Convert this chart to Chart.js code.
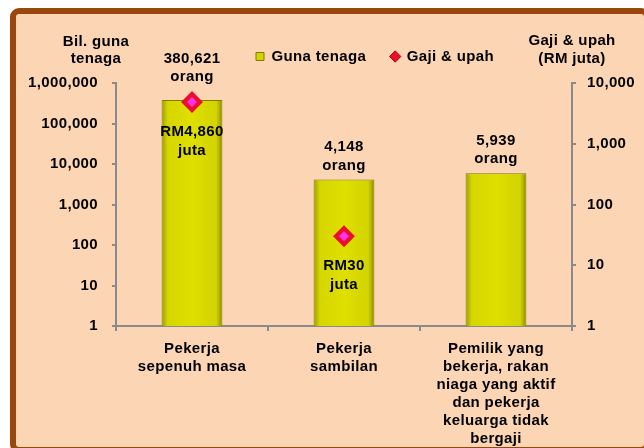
<!DOCTYPE html>
<html><head><meta charset="utf-8">
<script src="https://cdn.jsdelivr.net/npm/chart.js@4"></script>
<style>html,body{margin:0;padding:0;background:#fff;}canvas{display:block;}</style>
</head><body>
<canvas id="c" width="644" height="448"></canvas>
<script>
// ---- data ----
const categories = [
  ["Pekerja", "sepenuh masa"],
  ["Pekerja", "sambilan"],
  ["Pemilik yang", "bekerja, rakan", "niaga yang aktif", "dan pekerja", "keluarga tidak", "bergaji"]
];
const workers = [380621, 4148, 5939];
const wages = [4860, 30, null];
const leftTicks = [1, 10, 100, 1000, 10000, 100000, 1000000];
const rightTicks = [1, 10, 100, 1000, 10000];
const seriesNames = ["Guna tenaga", "Gaji & upah"];
const leftTitle = ["Bil. guna", "tenaga"];
const rightTitle = ["Gaji & upah", "(RM juta)"];
const barUnit = "orang";
const wagePrefix = "RM";
const wageUnit = "juta";

// ---- style ----
const FONT = "'Liberation Sans', Arial, sans-serif";
const FS = 15;
const LS = '0.35px';
const fmt = v => v.toLocaleString('en-US');
const AXIS = '#8a8a8a';

function barGradient(ctx) {
  const chart = ctx.chart;
  const xs = chart.scales && chart.scales.x;
  if (!chart.chartArea || !xs) return '#D8D800';
  const cx = xs.getPixelForValue(ctx.dataIndex);
  const w = xs.width / categories.length * 0.4;
  const g = chart.ctx.createLinearGradient(cx - w / 2, 0, cx + w / 2, 0);
  g.addColorStop(0, '#9C9C00');
  g.addColorStop(0.1, '#D6D600');
  g.addColorStop(0.5, '#DFDF00');
  g.addColorStop(0.9, '#D3D300');
  g.addColorStop(1, '#8E8E00');
  return g;
}

const framePlugin = {
  id: 'frame',
  beforeUpdate(chart) { chart.ctx.letterSpacing = LS; },
  afterLayout(chart) {
    const l = chart.legend;
    if (!l || !l.lineWidths) return;
    const pad = l.options.labels.padding;
    const x0 = (l.left + pad + l.right - l.lineWidths[0]) / 2;
    const dx = 256 - x0;
    l.left += dx; l.right += dx;
    l.top -= 9; l.bottom -= 9;
  },
  beforeDraw(chart) {
    const c = chart.ctx;
    c.save();
    c.fillStyle = '#fff';
    c.fillRect(0, 0, chart.width, chart.height);
    c.beginPath();
    c.roundRect(13, 11, 634, 439, 6);
    c.fillStyle = '#FCD5B5';
    c.fill();
    c.lineWidth = 6;
    c.strokeStyle = '#9A460C';
    c.stroke();
    c.restore();
    c.letterSpacing = LS;
  },
  afterDatasetsDraw(chart) {
    const c = chart.ctx;
    c.save();
    c.letterSpacing = LS;
    c.font = 'bold ' + FS + 'px ' + FONT;
    c.fillStyle = '#000';
    c.textAlign = 'center';
    c.textBaseline = 'middle';
    const barMeta = chart.getDatasetMeta(0);
    const ptMeta = chart.getDatasetMeta(1);
    barMeta.data.forEach((el, i) => {
      let lowY = el.y - 14;
      if (wages[i] != null) {
        lowY = Math.min(lowY, ptMeta.data[i].y - 25);
      }
      c.fillText(fmt(workers[i]), el.x, lowY - 18.5);
      c.fillText(barUnit, el.x, lowY);
    });
    ptMeta.data.forEach((el, i) => {
      if (wages[i] == null) return;
      c.fillText(wagePrefix + fmt(wages[i]), el.x, el.y + 30);
      c.fillText(wageUnit, el.x, el.y + 48.5);
    });
    // axis titles
    const ys = chart.scales.y, y1 = chart.scales.y1, top = chart.chartArea.top;
    leftTitle.forEach((t, i) => c.fillText(t, ys.right - 20, top - 41.5 + i * 17.5));
    rightTitle.forEach((t, i) => c.fillText(t, y1.left, top - 42.5 + i * 18));
    c.restore();
  }
};

const tickFont = { family: FONT, size: FS, weight: 'bold' };

new Chart(document.getElementById('c'), {
  data: {
    labels: categories,
    datasets: [
      {
        type: 'bar',
        label: seriesNames[0],
        data: workers,
        yAxisID: 'y',
        backgroundColor: barGradient,
        borderColor: '#7E7E00',
        borderWidth: 1,
        barPercentage: 0.4,
        categoryPercentage: 1.0,
        order: 2
      },
      {
        type: 'line',
        label: seriesNames[1],
        data: wages,
        yAxisID: 'y1',
        showLine: false,
        pointStyle: 'rectRot',
        pointRadius: 8,
        pointHoverRadius: 8,
        pointBorderWidth: 4.2,
        pointBackgroundColor: '#FF30EC',
        pointBorderColor: '#E8102C',
        order: 1
      }
    ]
  },
  options: {
    responsive: false,
    animation: false,
    events: [],
    layout: { padding: { top: 33, left: 0, right: 0, bottom: 0 } },
    plugins: {
      tooltip: { enabled: false },
      legend: {
        position: 'top',
        labels: {
          usePointStyle: true,
          boxWidth: 8,
          boxHeight: 8,
          padding: 25,
          color: '#000',
          font: tickFont,
          generateLabels: () => [
            { text: seriesNames[0], fillStyle: '#D4D400', strokeStyle: '#7E7E00', lineWidth: 1, pointStyle: 'rect', datasetIndex: 0, hidden: false, fontColor: '#000' },
            { text: seriesNames[1], fillStyle: '#E8102C', strokeStyle: '#B0001A', lineWidth: 1, pointStyle: 'rectRot', datasetIndex: 1, hidden: false, fontColor: '#000' }
          ]
        }
      }
    },
    scales: {
      x: {
        type: 'category',
        offset: true,
        grid: { offset: true, drawOnChartArea: false, drawTicks: true, tickLength: 5, color: AXIS, lineWidth: 2 },
        border: { display: true, color: AXIS, width: 2 },
        ticks: { color: '#000', font: { ...tickFont, lineHeight: '18px' }, padding: 9, autoSkip: false, maxRotation: 0 },
        afterFit: s => { s.height = 122; }
      },
      y: {
        type: 'logarithmic',
        position: 'left',
        min: 1,
        max: 1000000,
        grid: { drawOnChartArea: false, tickLength: 4, color: AXIS, lineWidth: 2 },
        border: { display: true, color: AXIS, width: 2 },
        ticks: { color: '#000', font: tickFont, padding: 14, callback: v => fmt(v) },
        afterBuildTicks: s => { s.ticks = leftTicks.map(v => ({ value: v })); },
        afterFit: s => { s.width = 116; }
      },
      y1: {
        type: 'logarithmic',
        position: 'right',
        min: 1,
        max: 10000,
        grid: { drawOnChartArea: false, tickLength: 4, color: AXIS, lineWidth: 2 },
        border: { display: true, color: AXIS, width: 2 },
        ticks: { color: '#000', font: tickFont, padding: 11, callback: v => fmt(v) },
        afterBuildTicks: s => { s.ticks = rightTicks.map(v => ({ value: v })); },
        afterFit: s => { s.width = 72; }
      }
    }
  },
  plugins: [framePlugin]
});
</script>
</body></html>
